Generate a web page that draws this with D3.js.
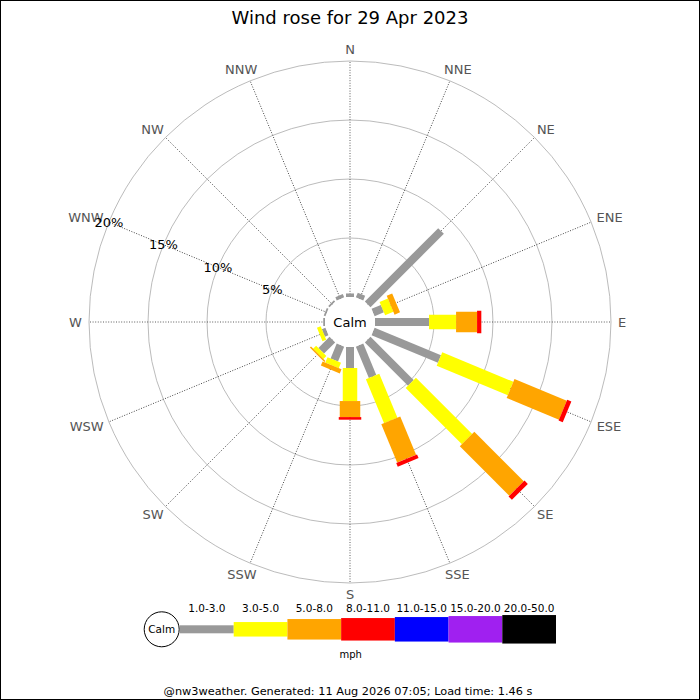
<!DOCTYPE html>
<html>
<head>
<meta charset="utf-8">
<script src="https://cdn.jsdelivr.net/npm/d3@7"></script>
<style>
  html, body { margin: 0; padding: 0; background: #fff; }
  svg { display: block; font-family: "DejaVu Sans", sans-serif; }
</style>
</head>
<body>
<svg id="chart" width="700" height="700"></svg>
<script>
// ---- data ----
const title = "Wind rose for 29 Apr 2023";
const footer = "@nw3weather. Generated: 11 Aug 2026 07:05; Load time: 1.46 s";
const directions = ["N","NNE","NE","ENE","E","ESE","SE","SSE","S","SSW","SW","WSW","W","WNW","NW","NNW"];
const speedBands = ["1.0-3.0","3.0-5.0","5.0-8.0","8.0-11.0","11.0-15.0","15.0-20.0","20.0-50.0"];
const bandColors = ["#999999","#ffff00","#ffa500","#ff0000","#0000ff","#a020f0","#000000"];
// percent of time per direction, per speed band
const band1to3   = [0.30, 0.42, 8.79, 0.85, 4.58, 6.09, 5.17, 2.88, 1.78, 1.36, 1.33, 0.32, 0.15, 0.15, 0.15, 0.30];
const band3to5   = [0, 0, 0, 0.76, 2.29, 6.52, 6.74, 4.03, 2.80, 0.50, 0.36, 0.34, 0, 0, 0, 0];
const band5to8   = [0, 0, 0, 0.50, 1.78, 4.80, 5.93, 3.51, 1.36, 0.38, 0.13, 0, 0, 0, 0, 0];
const band8to11  = [0, 0, 0, 0, 0.36, 0.38, 0.40, 0.34, 0.22, 0, 0, 0, 0, 0, 0, 0];
const band11to15 = [0, 0, 0, 0, 0, 0, 0, 0, 0, 0, 0, 0, 0, 0, 0, 0];
const band15to20 = [0, 0, 0, 0, 0, 0, 0, 0, 0, 0, 0, 0, 0, 0, 0, 0];
const band20to50 = [0, 0, 0, 0, 0, 0, 0, 0, 0, 0, 0, 0, 0, 0, 0, 0];
const ringTicks = [5, 10, 15, 20];
const ringLabels = ["5%", "10%", "15%", "20%"];
const unitLabel = "mph";
const calmLabel = "Calm";

// ---- layout ----
const W = 700, H = 700;
const cx = 350, cy = 322;
const calmR = 25, outerR = 261;
const barWidths = [8, 14.5, 20.5, 22.5, 24.5, 26.5, 28.5];

const svg = d3.select("#chart");
svg.append("rect").attr("x", 0.5).attr("y", 0.5).attr("width", W - 1).attr("height", H - 1)
  .attr("fill", "#fff").attr("stroke", "#000").attr("stroke-width", 1);

svg.append("text").attr("x", 350).attr("y", 24).attr("text-anchor", "middle")
  .attr("font-size", 18).attr("fill", "#000").text(title);

const r = d3.scaleLinear().domain([0, 20]).range([calmR, outerR]);
const angle = d3.scalePoint().domain(directions).range([0, 360 - 22.5]);

const g = svg.append("g").attr("transform", `translate(${cx},${cy})`);

// rings
g.selectAll("circle.ring").data(ringTicks).join("circle")
  .attr("class", "ring").attr("r", d => r(d))
  .attr("fill", "none").attr("stroke", "#aaa").attr("stroke-width", 0.8);

// spokes
g.selectAll("line.spoke").data(directions).join("line")
  .attr("class", "spoke")
  .attr("transform", d => `rotate(${angle(d)})`)
  .attr("x1", 0).attr("x2", 0).attr("y1", -calmR).attr("y2", -outerR)
  .attr("stroke", "#333").attr("stroke-width", 0.8).attr("stroke-dasharray", "1,1.6");

// direction labels
const dirG = g.selectAll("text.dir").data(directions).join("text")
  .attr("class", "dir").attr("font-size", 13).attr("fill", "#555")
  .attr("text-anchor", "middle").attr("dominant-baseline", "central")
  .text(d => d);
dirG.each(function (d) {
  const bb = this.getBBox();
  const a = angle(d) * Math.PI / 180;
  const s = Math.sin(a), c = Math.cos(a);
  const R = 268;
  const hw = bb.width / 2, hh = 4.8;
  d3.select(this).attr("x", s * R + s * hw).attr("y", -c * R - c * hh);
});

// bars
const bands = [band1to3, band3to5, band5to8, band8to11, band11to15, band15to20, band20to50];
const segs = [];
directions.forEach((dir, i) => {
  let cum = 0;
  bands.forEach((arr, b) => {
    const v = arr[i];
    if (v > 0) {
      segs.push({ dir, band: b, p0: cum, p1: cum + v });
      cum += v;
    }
  });
});
g.selectAll("rect.seg").data(segs).join("rect")
  .attr("class", "seg")
  .attr("transform", d => `rotate(${angle(d.dir)})`)
  .attr("x", d => -barWidths[d.band] / 2)
  .attr("width", d => barWidths[d.band])
  .attr("y", d => -r(d.p1))
  .attr("height", d => r(d.p1) - r(d.p0))
  .attr("fill", d => bandColors[d.band]);

// calm circle
g.append("circle").attr("r", calmR - 0.5).attr("fill", "#fff");
g.append("text").attr("x", 0).attr("y", 0).attr("text-anchor", "middle")
  .attr("dominant-baseline", "central").attr("font-size", 13).attr("fill", "#000").text(calmLabel);

// ring labels along WNW
const wnw = angle("WNW") * Math.PI / 180;
g.selectAll("text.ringlab").data(ringTicks).join("text")
  .attr("class", "ringlab")
  .attr("x", d => Math.sin(wnw) * r(d))
  .attr("y", d => -Math.cos(wnw) * r(d))
  .attr("text-anchor", "middle").attr("dominant-baseline", "central")
  .attr("font-size", 13).attr("fill", "#000")
  .text((d, i) => ringLabels[i]);

// ---- legend ----
const legY = 629.3;
const legX = d3.scaleBand().domain(speedBands).range([180, 556]);
const leg = svg.append("g");
leg.append("circle").attr("cx", 161.7).attr("cy", legY).attr("r", 17.5)
  .attr("fill", "#fff").attr("stroke", "#000").attr("stroke-width", 1);
leg.append("text").attr("x", 161.7).attr("y", legY).attr("text-anchor", "middle")
  .attr("dominant-baseline", "central").attr("font-size", 10.5).text(calmLabel);
leg.selectAll("rect.leg").data(speedBands).join("rect")
  .attr("class", "leg")
  .attr("x", d => legX(d)).attr("width", legX.bandwidth())
  .attr("y", (d, i) => legY - barWidths[i] / 2).attr("height", (d, i) => barWidths[i])
  .attr("fill", (d, i) => bandColors[i]);
leg.selectAll("text.leglab").data(speedBands).join("text")
  .attr("class", "leglab")
  .attr("x", d => legX(d) + legX.bandwidth() / 2).attr("y", 611.5)
  .attr("text-anchor", "middle").attr("font-size", 10.5).attr("fill", "#000").text(d => d);
leg.append("text").attr("x", 350.7).attr("y", 658).attr("text-anchor", "middle")
  .attr("font-size", 10).attr("fill", "#000").text(unitLabel);

svg.append("text").attr("x", 348).attr("y", 695).attr("text-anchor", "middle")
  .attr("font-size", 11.3).attr("fill", "#000").text(footer);
</script>
</body>
</html>
